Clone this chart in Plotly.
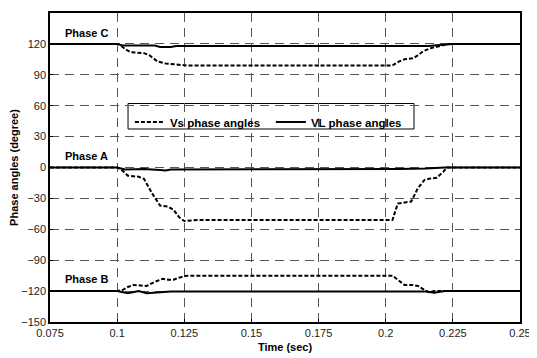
import plotly.graph_objects as go

# Phase A
t_vs_a = [0.075, 0.1, 0.102, 0.104, 0.108, 0.110, 0.113, 0.116, 0.119, 0.121, 0.123, 0.125, 0.13,
          0.2025, 0.2045, 0.2075, 0.2095, 0.212, 0.2145, 0.216, 0.219, 0.2215, 0.2228, 0.25]
v_vs_a = [0, 0, -3, -8, -9, -11, -25, -37, -38, -41, -48, -52, -51,
          -51, -35, -34, -33, -20, -12, -11, -10, -4, 0, 0]
t_vl_a = [0.075, 0.1, 0.103, 0.11, 0.116, 0.118, 0.12, 0.2, 0.205, 0.215, 0.222, 0.25]
v_vl_a = [0, 0, -2, -1.5, -2.5, -3, -2, -2, -1.5, -1, 0, 0]

# Phase C
t_vs_c = [0.075, 0.1005, 0.103, 0.105, 0.11, 0.112, 0.115, 0.118, 0.122, 0.126,
          0.2025, 0.205, 0.207, 0.21, 0.2115, 0.214, 0.217, 0.22, 0.2235, 0.25]
v_vs_c = [120, 120, 115, 112, 111, 109, 103, 101, 100, 99,
          99, 103, 105, 106, 108, 113, 116, 118, 120, 120]
t_vl_c = [0.075, 0.1, 0.102, 0.114, 0.116, 0.12, 0.122, 0.216, 0.22, 0.225, 0.25]
v_vl_c = [120, 120, 118.5, 118.5, 117, 117, 118, 118, 119, 120, 120]

# Phase B
t_vs_b = [0.075, 0.1, 0.102, 0.104, 0.106, 0.109, 0.111, 0.114, 0.117, 0.119, 0.121, 0.123, 0.126,
          0.2025, 0.205, 0.207, 0.21, 0.212, 0.2145, 0.216, 0.218, 0.25]
v_vs_b = [-120, -120, -119, -116, -114, -115, -115, -111, -108, -109, -109, -107, -105,
          -105, -110, -114, -114, -115, -119, -121, -120, -120]
t_vl_b = [0.075, 0.1, 0.104, 0.108, 0.111, 0.118, 0.12, 0.215, 0.218, 0.222, 0.25]
v_vl_b = [-120, -120, -122, -120, -122, -121, -120.5, -120.5, -121.5, -120, -120]

x_ticks = [0.075, 0.1, 0.125, 0.15, 0.175, 0.2, 0.225, 0.25]
x_tick_labels = ["0.075", "0.1", "0.125", "0.15", "0.175", "0.2", "0.225", "0.25"]
y_ticks = [-150, -120, -90, -60, -30, 0, 30, 60, 90, 120, 150]

phase_labels = ["Phase C", "Phase A", "Phase B"]
phase_label_y = [131, 11, -108]

FONT = "Arial, Liberation Sans, sans-serif"

fig = go.Figure()
dash_style = dict(color="black", width=2, dash="4px,2px")
solid_style = dict(color="black", width=2)

fig.add_trace(go.Scatter(x=t_vs_a, y=v_vs_a, mode="lines", line=dash_style,
                         name="Vs phase angles", legendgroup="vs"))
fig.add_trace(go.Scatter(x=t_vl_a, y=v_vl_a, mode="lines", line=solid_style,
                         name="VL phase angles", legendgroup="vl"))
for t, v in [(t_vs_c, v_vs_c), (t_vs_b, v_vs_b)]:
    fig.add_trace(go.Scatter(x=t, y=v, mode="lines", line=dash_style,
                             showlegend=False, legendgroup="vs"))
for t, v in [(t_vl_c, v_vl_c), (t_vl_b, v_vl_b)]:
    fig.add_trace(go.Scatter(x=t, y=v, mode="lines", line=solid_style,
                             showlegend=False, legendgroup="vl"))

for lab, yv in zip(phase_labels, phase_label_y):
    fig.add_annotation(x=0.0797, y=yv, xref="x", yref="y", text="<b>%s</b>" % lab,
                       showarrow=False, xanchor="left", yanchor="middle",
                       font=dict(family=FONT, size=11, color="black"))

# legend frame
fig.add_shape(type="rect", xref="paper", yref="paper",
              x0=0.166, x1=0.7745, y0=0.6246, y1=0.7071,
              line=dict(color="black", width=1), fillcolor="white", layer="below")

axis_common = dict(showline=True, linecolor="black", linewidth=1.5, mirror=True,
                   showgrid=True, gridcolor="#555555", gridwidth=1, griddash="9px,6px",
                   zeroline=False, ticks="inside", ticklen=3, tickcolor="black",
                   automargin=False,
                   tickfont=dict(family=FONT, size=11, color="#222"))

# the page body has an 8px margin, so the figure is sized/offset to compensate
fig.update_layout(
    width=529, height=350,
    margin=dict(l=42, r=17, t=5, b=36),
    plot_bgcolor="white", paper_bgcolor="white",
    font=dict(family=FONT, size=11, color="black"),
    xaxis=dict(range=[0.075, 0.25], tickvals=x_ticks, ticktext=x_tick_labels,
               title=dict(text="<b>Time (sec)</b>", standoff=5,
                          font=dict(family=FONT, size=11, color="#000000")),
               **axis_common),
    yaxis=dict(range=[-150, 150], tickvals=y_ticks,
               title=dict(text="<b>Phase angles (degree)</b>", standoff=6,
                          font=dict(family=FONT, size=11, color="#000000")),
               **axis_common),
    legend=dict(orientation="h", x=0.170, y=0.647, xanchor="left", yanchor="middle",
                bgcolor="rgba(0,0,0,0)", borderwidth=0,
                font=dict(family=FONT, size=11.5, color="black", weight="bold"),
                itemwidth=30, entrywidth=96, tracegroupgap=0),
    showlegend=True,
)

fig.write_html("out.html")
